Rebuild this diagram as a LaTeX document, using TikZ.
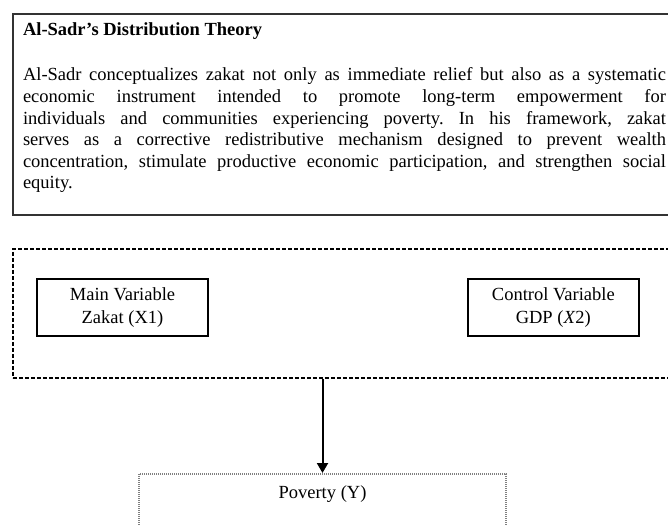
\documentclass[tikz,border=0pt]{standalone}
\usepackage{fontspec}
\setmainfont{Liberation Serif}
\usetikzlibrary{positioning}
\usetikzlibrary{arrows.meta}

\tikzset{
	varbox/.style = {draw, line width = 1.8pt, minimum width = 171pt, minimum height = 57pt, align = center, font = \fontsize{18.5}{23}\selectfont},
	groupbox/.style = {draw, line width = 1.6pt, dash pattern = on 4pt off 2pt, minimum width = 720pt, minimum height = 129pt, anchor = north west}
}

\begin{document}
\begin{tikzpicture}[x = 1pt, y = -1pt]
		\useasboundingbox (0,0) rectangle (668,524);
		\clip (0,0) rectangle (668,524);
		
		\node[draw, draw = black!80, line width = 2pt, anchor = north west, text width = 643pt, inner xsep = 10pt, inner ysep = 0pt, align = justify, font = \fontsize{18.5}{21.6}\selectfont] (theory) at (12,13) {%
			\parindent=0pt\frenchspacing
			{\bfseries\rule{0pt}{22pt}Al-Sadr’s Distribution Theory}\par
			\vspace{23.4pt}
			Al-Sadr conceptualizes zakat not only as immediate relief but also as a systematic\linebreak
			economic instrument intended to promote long-term empowerment for\linebreak
			individuals and communities experiencing poverty. In his framework, zakat\linebreak
			serves as a corrective redistributive mechanism designed to prevent wealth\linebreak
			concentration, stimulate productive economic participation, and strengthen social\linebreak
			equity.\rule[-26pt]{0pt}{26pt}};
		
		\node[groupbox] (vars) at (12,248) {};
		\node[varbox] (main) at (122.5,307.5) {Main Variable\\Zakat (X1)};
		\node[varbox, right = 258pt of main] (control) {Control Variable\\GDP (\textit{X}2)};
		
		\node[draw = gray, line width = 1.5pt, dash pattern = on 1pt off 1pt, anchor = north, minimum width = 367pt, text height = 14pt, text depth = 60pt, inner ysep = 11pt, font = \fontsize{18.5}{23}\selectfont] (poverty) at (322.5,473) {Poverty (Y)};
		
		\path (vars.south -| poverty) edge[-{Triangle[width = 11pt, length = 10pt]}, line width = 2pt] (poverty);
	\end{tikzpicture}
\end{document}
